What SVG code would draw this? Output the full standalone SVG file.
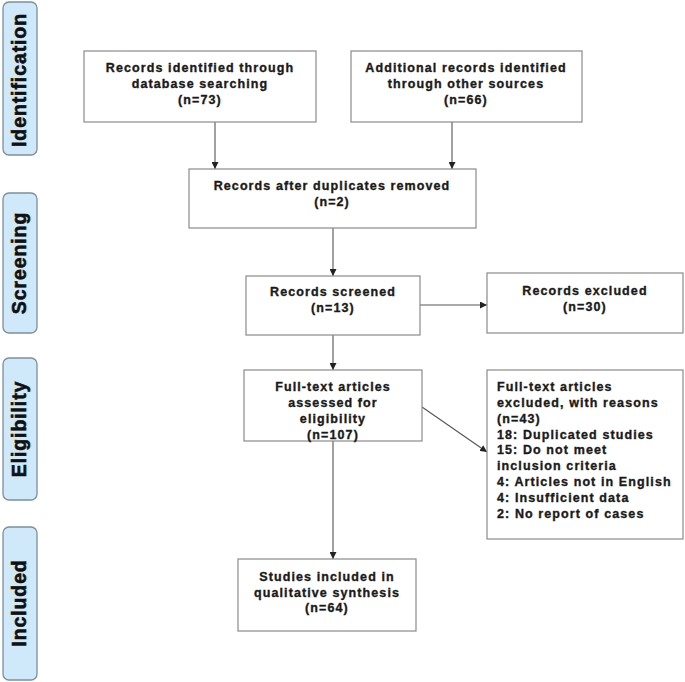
<svg xmlns="http://www.w3.org/2000/svg" width="685" height="682" viewBox="0 0 685 682">
<style>
.bg{fill:#ffffff}
.box{fill:#ffffff;stroke:#8a8a8a;stroke-width:1.2}
.phase{fill:#cfe9fb;stroke:#7d8f9b;stroke-width:1.3}
.t{font-family:"Liberation Sans",Arial,sans-serif;font-weight:bold;font-size:12.5px;letter-spacing:1.1px;fill:#1a1a1a;stroke:#1a1a1a;stroke-width:0.35px;text-anchor:middle}
.tl{text-anchor:start}
.ph{font-family:"Liberation Sans",Arial,sans-serif;font-weight:bold;font-size:19.5px;letter-spacing:0.9px;fill:#111;stroke:#111;stroke-width:0.6px;text-anchor:middle}
.c{stroke:#555;stroke-width:1.1;fill:none;marker-end:url(#ah)}
</style>
<defs>
<marker id="ah" viewBox="0 0 10 10" refX="10" refY="5" markerWidth="7" markerHeight="7" markerUnits="userSpaceOnUse" orient="auto">
<path d="M0,0 L10,5 L0,10 z" fill="#222"/>
</marker>
</defs>
<rect class="bg" x="0" y="0" width="685" height="682"/>
<g id="phases">
<g id="ph-identification"><rect class="phase" x="3" y="2" width="34" height="153" rx="6"/><text class="ph" transform="translate(26,80) rotate(-90)">Identification</text></g>
<g id="ph-screening"><rect class="phase" x="3" y="193" width="34" height="140" rx="6"/><text class="ph" transform="translate(26,263) rotate(-90)">Screening</text></g>
<g id="ph-eligibility"><rect class="phase" x="3" y="358" width="34" height="142" rx="6"/><text class="ph" transform="translate(26,429) rotate(-90)">Eligibility</text></g>
<g id="ph-included"><rect class="phase" x="3" y="527" width="34" height="153" rx="6"/><text class="ph" transform="translate(26,603) rotate(-90)">Included</text></g>
</g>
<g id="connectors">
<line class="c" x1="215" y1="122" x2="215" y2="169"/>
<line class="c" x1="452" y1="122" x2="452" y2="169"/>
<line class="c" x1="333" y1="228" x2="333" y2="276"/>
<line class="c" x1="420" y1="305" x2="487" y2="305"/>
<line class="c" x1="333" y1="335" x2="333" y2="370"/>
<line class="c" x1="422" y1="407" x2="487" y2="452"/>
<line class="c" x1="333" y1="441" x2="333" y2="559"/>
</g>
<g id="n1"><rect class="box" x="84" y="51" width="232" height="71"/>
<text class="t" x="200" y="72">Records identified through</text>
<text class="t" x="200" y="88">database searching</text>
<text class="t" x="200" y="104">(n=73)</text></g>
<g id="n2"><rect class="box" x="351" y="51" width="231" height="71"/>
<text class="t" x="466" y="72">Additional records identified</text>
<text class="t" x="466" y="88">through other sources</text>
<text class="t" x="466" y="104">(n=66)</text></g>
<g id="n3"><rect class="box" x="189" y="169" width="287" height="59"/>
<text class="t" x="332" y="190">Records after duplicates removed</text>
<text class="t" x="332" y="206">(n=2)</text></g>
<g id="n4"><rect class="box" x="246" y="276" width="174" height="59"/>
<text class="t" x="333" y="296">Records screened</text>
<text class="t" x="333" y="312">(n=13)</text></g>
<g id="n5"><rect class="box" x="487" y="273" width="196" height="60"/>
<text class="t" x="585" y="295">Records excluded</text>
<text class="t" x="585" y="311">(n=30)</text></g>
<g id="n6"><rect class="box" x="244" y="370" width="178" height="71"/>
<text class="t" x="333" y="391">Full-text articles</text>
<text class="t" x="333" y="407">assessed for</text>
<text class="t" x="333" y="423">eligibility</text>
<text class="t" x="333" y="439">(n=107)</text></g>
<g id="n7"><rect class="box" x="487" y="370" width="196" height="169"/>
<text class="t tl" x="497" y="391">Full-text articles</text>
<text class="t tl" x="497" y="407">excluded, with reasons</text>
<text class="t tl" x="497" y="423">(n=43)</text>
<text class="t tl" x="497" y="438.5">18: Duplicated studies</text>
<text class="t tl" x="497" y="454">15: Do not meet</text>
<text class="t tl" x="497" y="470">inclusion criteria</text>
<text class="t tl" x="497" y="486">4: Articles not in English</text>
<text class="t tl" x="497" y="502">4: Insufficient data</text>
<text class="t tl" x="497" y="517.5">2: No report of cases</text></g>
<g id="n8"><rect class="box" x="238" y="559" width="178" height="72"/>
<text class="t" x="327" y="581">Studies included in</text>
<text class="t" x="327" y="597">qualitative synthesis</text>
<text class="t" x="327" y="612">(n=64)</text></g>
</svg>
